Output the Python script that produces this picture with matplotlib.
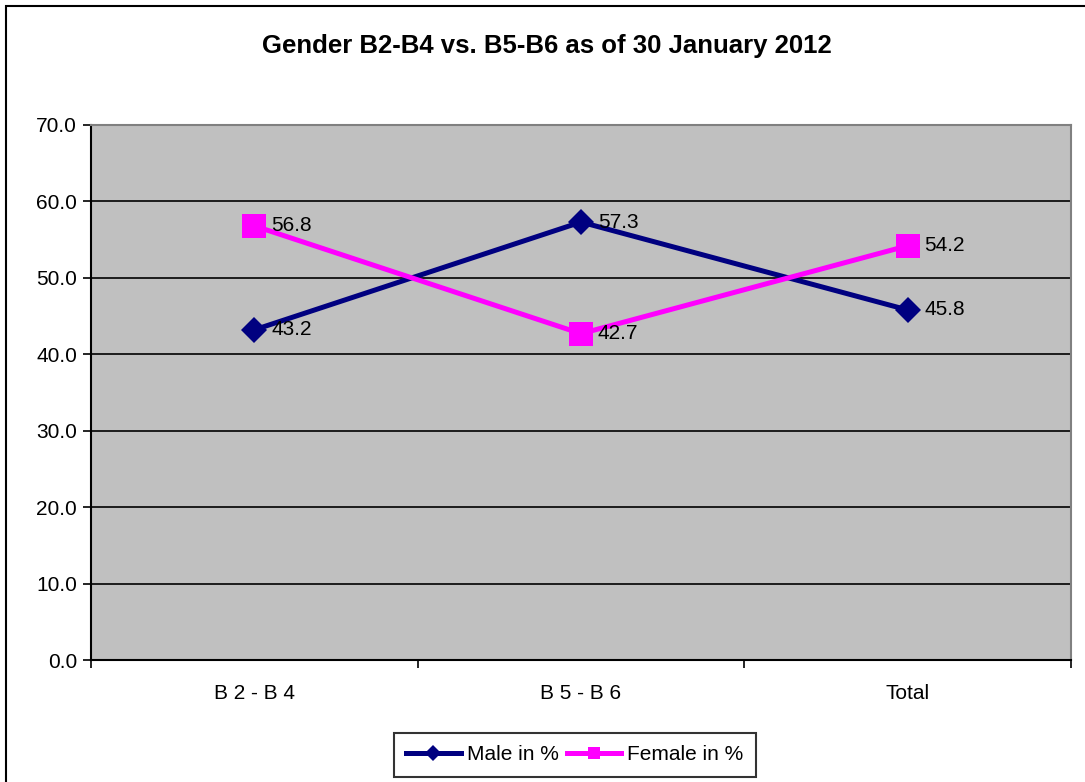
import matplotlib
matplotlib.use("Agg")
import matplotlib.pyplot as plt
from matplotlib.lines import Line2D
from matplotlib.patches import Rectangle

categories = ["B 2 - B 4", "B 5 - B 6", "Total"]
male = [43.2, 57.3, 45.8]
female = [56.8, 42.7, 54.2]
y_ticks = [0, 10, 20, 30, 40, 50, 60, 70]
title = "Gender B2-B4 vs. B5-B6 as of 30 January 2012"

MALE_C = "#000080"
FEMALE_C = "#FF00FF"

plt.rcParams["font.family"] = ["Liberation Sans", "DejaVu Sans"]

W, H = 1085, 782
fig = plt.figure(figsize=(W / 100, H / 100), dpi=100)
fig.patch.set_facecolor("white")

# outer chart frame (top/left edges visible)
fig.patches.append(Rectangle((6 / W, -0.05), 1.1, 1 - 6 / H + 0.05,
                             transform=fig.transFigure, fill=False,
                             edgecolor="black", linewidth=1.5))

ax = fig.add_axes([91 / W, (H - 660) / H, 980 / W, 535 / H])
ax.set_facecolor("#C0C0C0")

x = list(range(len(categories)))
ax.plot(x, male, color=MALE_C, linewidth=3.6, marker="D", markersize=13,
        markeredgewidth=0, zorder=3)
ax.plot(x, female, color=FEMALE_C, linewidth=3.6, marker="s", markersize=17,
        markeredgewidth=0, zorder=3)

for xi, v in zip(x, male):
    ax.annotate(f"{v:.1f}", (xi, v), xytext=(12, 0), textcoords="offset points",
                ha="left", va="center", fontsize=15, zorder=4)
for xi, v in zip(x, female):
    ax.annotate(f"{v:.1f}", (xi, v), xytext=(12, 0), textcoords="offset points",
                ha="left", va="center", fontsize=15, zorder=4)

ax.set_xlim(-0.5, len(categories) - 0.5)
ax.set_ylim(0, 70)
ax.set_yticks(y_ticks)
ax.set_yticklabels([f"{t:.1f}" for t in y_ticks], fontsize=15)
ax.yaxis.grid(True, color="black", linewidth=1.2)
ax.set_axisbelow(True)

# category labels centered, tick marks on category boundaries
ax.set_xticks(x)
ax.set_xticklabels(categories, fontsize=15)
ax.tick_params(axis="x", length=0, pad=17)
ax.set_xticks([i - 0.5 for i in range(len(categories) + 1)], minor=True)
ax.tick_params(axis="x", which="minor", length=6, width=1.2, direction="out")
ax.tick_params(axis="y", length=6, width=1.2, direction="out", pad=4)

for side in ("top", "right"):
    ax.spines[side].set_color("#808080")
    ax.spines[side].set_linewidth(1.5)
for side in ("left", "bottom"):
    ax.spines[side].set_color("black")
    ax.spines[side].set_linewidth(1.5)

fig.text(547 / W, 1 - 46 / H, title, ha="center", va="center",
         fontsize=18.5, fontweight="bold")

handles = [
    Line2D([], [], color=MALE_C, linewidth=3.6, marker="D", markersize=8,
           markeredgewidth=0),
    Line2D([], [], color=FEMALE_C, linewidth=3.6, marker="s", markersize=9,
           markeredgewidth=0),
]
leg = fig.legend(handles, ["Male in %", "Female in %"], loc="center",
                 bbox_to_anchor=(575 / W, 1 - 755 / H), ncol=2, fontsize=15,
                 frameon=True, fancybox=False, edgecolor="black",
                 handlelength=2.6, handletextpad=0.3, columnspacing=0.4,
                 borderpad=0.6, borderaxespad=0)
leg.get_frame().set_linewidth(1.5)

fig.savefig("out.png", dpi=100)
